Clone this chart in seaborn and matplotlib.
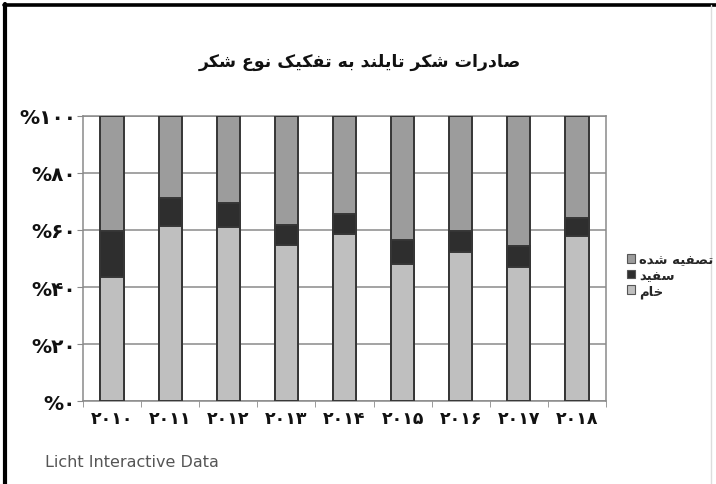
import numpy as np
import pandas as pd
import matplotlib
matplotlib.use("Agg")
import matplotlib.pyplot as plt
import matplotlib.lines as mlines
from matplotlib.patches import Patch
import seaborn as sns

years = ["۲۰۱۰", "۲۰۱۱", "۲۰۱۲", "۲۰۱۳", "۲۰۱۴", "۲۰۱۵", "۲۰۱۶", "۲۰۱۷", "۲۰۱۸"]
kham = [43.4, 61.5, 61.2, 54.9, 58.6, 48.0, 52.2, 46.9, 58.0]
sefid = [16.4, 9.7, 8.1, 7.0, 6.9, 8.5, 7.6, 7.5, 6.1]
tasfieh = [40.2, 28.8, 30.7, 38.1, 34.5, 43.5, 40.2, 45.6, 35.9]
ytick_labels = ["%۰", "%۲۰", "%۴۰", "%۶۰", "%۸۰", "%۱۰۰"]
series_names = ["تصفیه شده", "سفید", "خام"]
title = "صادرات شکر تایلند به تفکیک نوع شکر"
source = "Licht Interactive Data"

# minimal persian shaping (matplotlib has no bidi / joining)
FORMS = {
    "ا": ("\uFE8D", "\uFE8E", None, None),
    "ب": ("\uFE8F", "\uFE90", "\uFE91", "\uFE92"),
    "ت": ("\uFE95", "\uFE96", "\uFE97", "\uFE98"),
    "خ": ("\uFEA5", "\uFEA6", "\uFEA7", "\uFEA8"),
    "د": ("\uFEA9", "\uFEAA", None, None),
    "ر": ("\uFEAD", "\uFEAE", None, None),
    "س": ("\uFEB1", "\uFEB2", "\uFEB3", "\uFEB4"),
    "ش": ("\uFEB5", "\uFEB6", "\uFEB7", "\uFEB8"),
    "ص": ("\uFEB9", "\uFEBA", "\uFEBB", "\uFEBC"),
    "ع": ("\uFEC9", "\uFECA", "\uFECB", "\uFECC"),
    "ف": ("\uFED1", "\uFED2", "\uFED3", "\uFED4"),
    "ک": ("\uFB8E", "\uFB8F", "\uFB90", "\uFB91"),
    "ل": ("\uFEDD", "\uFEDE", "\uFEDF", "\uFEE0"),
    "م": ("\uFEE1", "\uFEE2", "\uFEE3", "\uFEE4"),
    "ن": ("\uFEE5", "\uFEE6", "\uFEE7", "\uFEE8"),
    "ه": ("\uFEE9", "\uFEEA", "\uFEEB", "\uFEEC"),
    "و": ("\uFEED", "\uFEEE", None, None),
    "ی": ("\uFBFC", "\uFBFD", "\uFBFE", "\uFBFF"),
}


def shape(text):
    out = []
    for i, ch in enumerate(text):
        if ch not in FORMS:
            out.append(ch)
            continue
        prev = text[i - 1] if i > 0 else ""
        nxt = text[i + 1] if i + 1 < len(text) else ""
        join_prev = prev in FORMS and FORMS[prev][2] is not None
        join_next = FORMS[ch][2] is not None and nxt in FORMS
        iso, fin, ini, med = FORMS[ch]
        if join_prev and join_next:
            out.append(med)
        elif join_prev:
            out.append(fin)
        elif join_next:
            out.append(ini)
        else:
            out.append(iso)
    return "".join(out)[::-1]


sns.set_style("white")
plt.rcParams["font.family"] = ["DejaVu Sans"]

df = pd.DataFrame({"year": years, "kham": kham, "sefid": sefid, "tasfieh": tasfieh})
df["c2"] = df.kham + df.sefid
df["c3"] = df.c2 + df.tasfieh

col_top = "#9c9c9c"
col_mid = "#2e2e2e"
col_bot = "#bfbfbf"
edge = "#363636"

fig = plt.figure(figsize=(7.16, 4.85), dpi=100)
ax = fig.add_axes([0.1159, 0.1711, 0.7305, 0.5877])

kw = dict(width=0.4, edgecolor=edge, linewidth=1.4, ax=ax, zorder=3)
sns.barplot(data=df, x="year", y="c3", color=col_top, saturation=1, **kw)
sns.barplot(data=df, x="year", y="c2", color=col_mid, saturation=1, **kw)
sns.barplot(data=df, x="year", y="kham", color=col_bot, saturation=1, **kw)

ax.set_ylim(0, 100)
ax.set_xlim(-0.5, len(years) - 0.5)
ax.set_yticks([0, 20, 40, 60, 80, 100])
ax.set_yticklabels(ytick_labels, fontsize=14.5, fontweight="bold", color="#111111")
ax.set_xticklabels(years, fontsize=12.5, fontweight="bold", color="#111111")
ax.set_xlabel("")
ax.set_ylabel("")
ax.yaxis.grid(True, color="#8a8a8a", linewidth=1.1, zorder=0)
ax.set_axisbelow(True)
ax.tick_params(axis="y", length=4, color="#8a8a8a", pad=1, left=True)
ax.tick_params(axis="x", length=0, pad=6)
ax.set_xticks(np.arange(len(years) + 1) - 0.5, minor=True)
ax.tick_params(axis="x", which="minor", length=4, color="#8a8a8a", bottom=True)
for s in ax.spines.values():
    s.set_visible(True)
    s.set_color("#8a8a8a")
    s.set_linewidth(1.1)

handles = [Patch(facecolor=c, edgecolor="#555555", linewidth=0.8) for c in (col_top, col_mid, col_bot)]
leg = fig.legend(handles, [shape(n) for n in series_names], loc="center left",
                 bbox_to_anchor=(0.866, 0.43), frameon=False, handlelength=0.6,
                 handleheight=0.6, handletextpad=0.35, labelspacing=0.2,
                 borderpad=0, prop={"size": 9.5, "weight": "bold"})

fig.text(0.503, 0.872, shape(title), ha="center", va="center", fontsize=12.5,
         fontweight="bold", color="#111111")
fig.text(0.063, 0.047, source, ha="left", va="center", fontsize=11.5, color="#555555")

# outer frame
fig.add_artist(mlines.Line2D([0.005, 1.0], [0.988, 0.988], color="black", linewidth=2.6,
                             transform=fig.transFigure))
fig.add_artist(mlines.Line2D([0.007, 0.007], [0.0, 0.99], color="black", linewidth=3.0,
                             transform=fig.transFigure))
fig.add_artist(mlines.Line2D([0.993, 0.993], [0.0, 0.988], color="#dddddd", linewidth=1.0,
                             transform=fig.transFigure))

fig.savefig("out.png", dpi=100, facecolor="white")
